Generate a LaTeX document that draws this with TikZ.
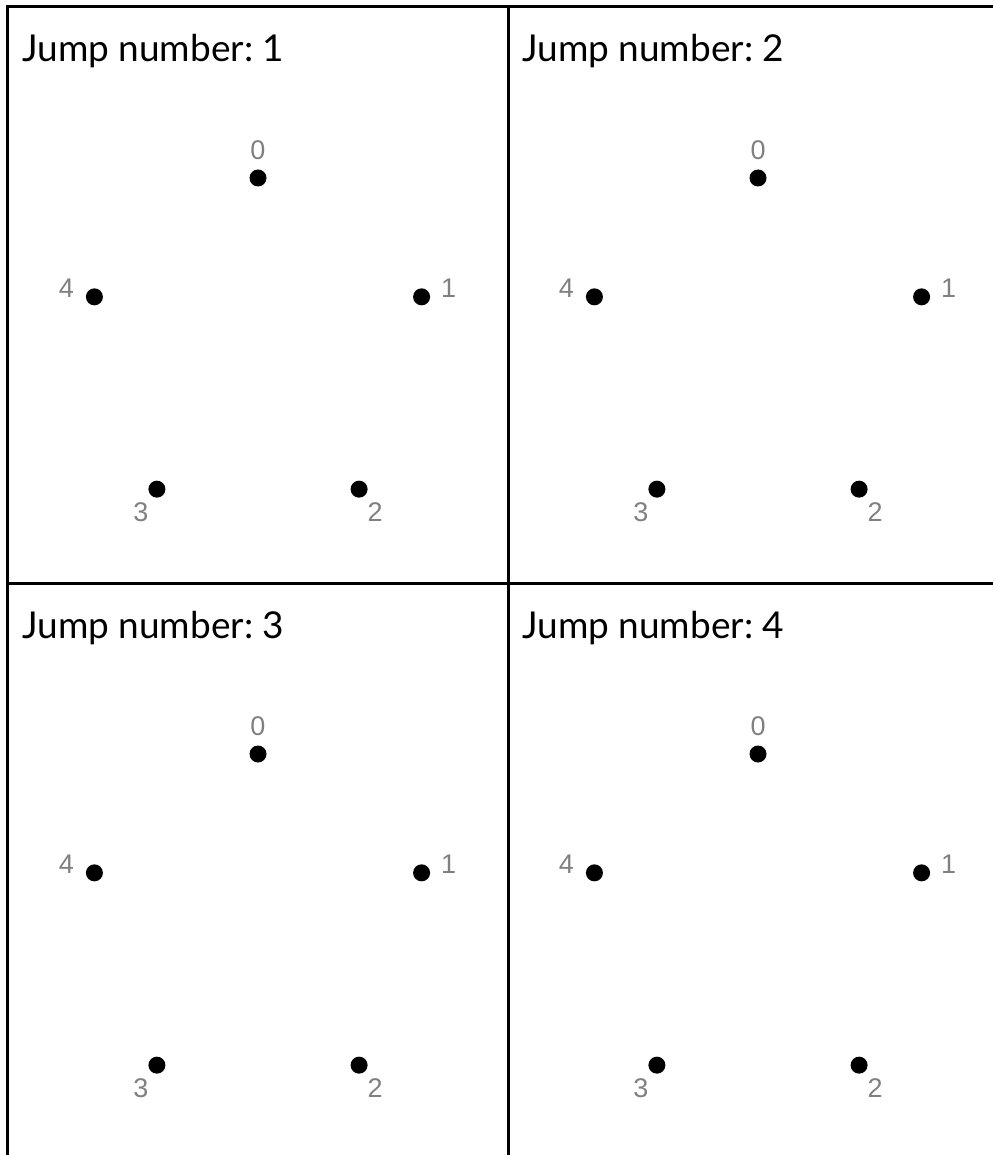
\documentclass[tikz,border=0pt]{standalone}
\usepackage{fontspec}
\setmainfont{Lato}
\newfontfamily\labelfont{Liberation Sans}
\usetikzlibrary{positioning}
\frenchspacing

\begin{document}
\begin{tikzpicture}[x=1pt,y=-1pt,
  frame line/.style={line width=3pt},
  jump dot/.style={circle,fill=black,inner sep=0pt,minimum size=17pt},
  vertex label/.style={text=black!50,inner sep=0pt,font=\labelfont\fontsize{27}{27}\selectfont},
  panel title/.style={anchor=base west,inner sep=0pt,font=\fontsize{37}{40}\selectfont}]

\useasboundingbox (0,0) rectangle (993,1155);

% panel frame
\draw[frame line] (6,6.5) -- (993,6.5);
\draw[frame line] (7.5,5) -- (7.5,1155);
\draw[frame line] (508.5,5) -- (508.5,1155);
\draw[frame line] (6,583) -- (993,583);

% one panel per jump
\foreach \n/\dx/\dy in {1/0/0, 2/500/0, 3/0/576, 4/500/576}{
  \begin{scope}[shift={(\dx,\dy)}]
    \node[panel title] (title\n) at (22,62) {Jump number: \n};

    % five stones on a pentagon
    \foreach \k in {0,...,4}
      \node[jump dot] (p\n-\k) at ({258+172*sin(72*\k)},{350-172*cos(72*\k)}) {};

    \node[vertex label] (l\n-0) at ([shift={(0,-28)}]p\n-0) {0};
    \node[vertex label] (l\n-1) at ([shift={(27,-9)}]p\n-1) {1};
    \node[vertex label] (l\n-2) at ([shift={(16,23)}]p\n-2) {2};
    \node[vertex label] (l\n-3) at ([shift={(-16,23)}]p\n-3) {3};
    \node[vertex label] (l\n-4) at ([shift={(-28,-9)}]p\n-4) {4};
  \end{scope}
}

\end{tikzpicture}
\end{document}
